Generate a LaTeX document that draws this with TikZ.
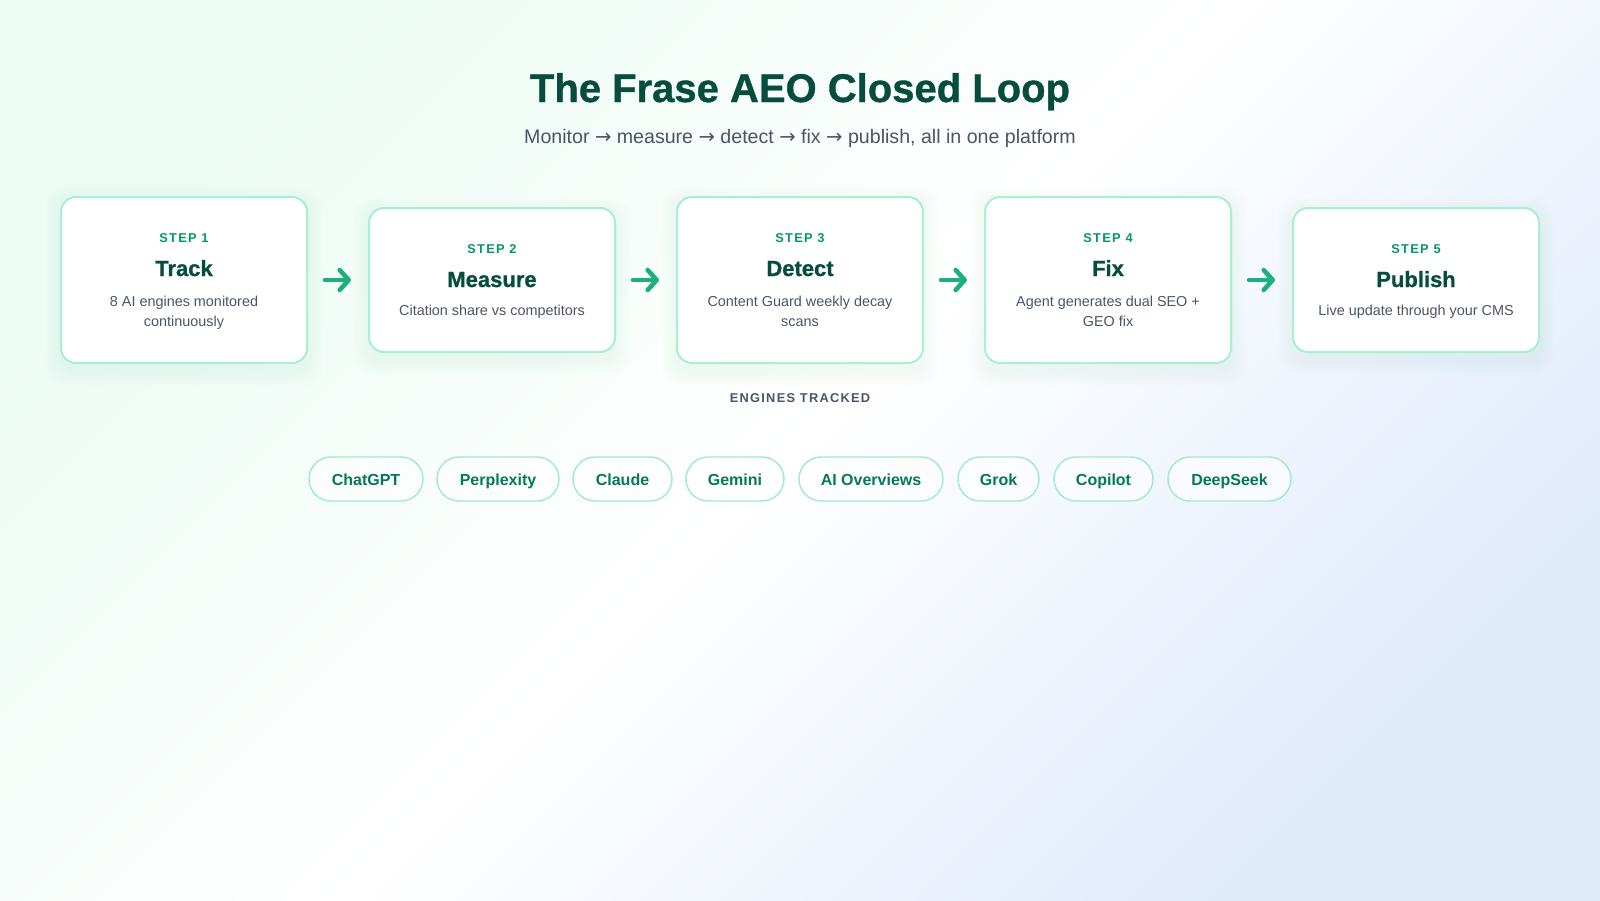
\documentclass[tikz,border=0pt]{standalone}
\usepackage{fontspec}
\setmainfont{Liberation Sans}
\newfontfamily\arrowfont{DejaVu Sans}
\newfontfamily\trackfont[LetterSpace=10]{Liberation Sans}
\newfontfamily\heavyfont[FakeBold=0.9]{Liberation Sans Bold}
\usetikzlibrary{arrows.meta}
\definecolor{bgmint}{HTML}{ECFBF4}
\definecolor{bgblue}{HTML}{DFEAFB}
\definecolor{titlegreen}{HTML}{064E3B}
\definecolor{subgray}{HTML}{4B5563}
\definecolor{stepgreen}{HTML}{059669}
\definecolor{boxborder}{HTML}{A7F0D0}
\definecolor{descgray}{HTML}{4B5563}
\definecolor{arrowgreen}{HTML}{1DB07C}
\definecolor{pilltext}{HTML}{047857}
\definecolor{pillborder}{HTML}{9FEAC8}
\definecolor{shadowgreen}{HTML}{5FD6A0}
\tikzset{
  card/.style={draw=boxborder, line width=1pt, fill=white, rounded corners=7.5pt,
    minimum width=123pt, inner sep=0pt},
  steplbl/.style={font=\trackfont\bfseries\fontsize{6.4}{8}\selectfont, text=stepgreen, inner sep=0pt},
  steptitle/.style={font=\heavyfont\fontsize{11}{13}\selectfont, text=titlegreen, inner sep=0pt},
  stepdesc/.style={font=\fontsize{7.2}{10}\selectfont, text=descgray, align=center, inner sep=0pt},
  flowarrow/.style={draw=arrowgreen, line width=2.3pt, line cap=round,
    -{Straight Barb[length=4.5pt, width=10pt, round]}, shorten <=8.5pt, shorten >=8.5pt},
  pill/.style={draw=pillborder, line width=0.7pt, fill=white, fill opacity=0.6, text opacity=1,
    rounded corners=11pt, minimum height=22pt, inner sep=0pt,
    font=\bfseries\fontsize{8}{10}\selectfont, text=pilltext, text height=8pt, text depth=2pt},
}
\newcommand\mkstep[7]{%
  \foreach \k in {1,...,6}{
    \fill[shadowgreen, opacity=0.012, rounded corners=9pt]
      (#2-123-\k*2.5, #3+5-\k*2.5) rectangle (#2+123+\k*2.5, #3+#4+8+\k*2.5);
  }
  \node[card, minimum height=#4*0.5pt] (#1) at (#2, #3+#4/2) {};
  \node[steplbl, anchor=base] (#1-l) at (#2, #3+45) {STEP #5};
  \node[steptitle, anchor=base] (#1-t) at (#2, #3+79) {#6};
  \node[stepdesc, anchor=base] (#1-d) at (#2, #3+#4-37) {#7};
}
\begin{document}
\begin{tikzpicture}[x=0.5pt, y=-0.5pt]
\useasboundingbox (0,0) rectangle (1600,900);
\shade[top color=bgmint, bottom color=bgblue, middle color=white, shading angle=45]
  (0,0) rectangle (1600,900);

\node[font=\heavyfont\fontsize{20}{24}\selectfont, text=titlegreen, anchor=base, inner sep=0pt]
  (title) at (800,102) {The Frase AEO Closed Loop};
\node[font=\fontsize{9.8}{12}\selectfont, text=subgray, anchor=base, inner sep=0pt]
  (subtitle) at (800,143) {Monitor {\arrowfont →} measure {\arrowfont →} detect {\arrowfont →} fix {\arrowfont →} publish, all in one platform};

\mkstep{s1}{184}{197}{166}{1}{Track}{8 AI engines monitored\\continuously}
\mkstep{s2}{492}{208}{144}{2}{Measure}{Citation share vs competitors}
\mkstep{s3}{800}{197}{166}{3}{Detect}{Content Guard weekly decay\\scans}
\mkstep{s4}{1108}{197}{166}{4}{Fix}{Agent generates dual SEO +\\GEO fix}
\mkstep{s5}{1416}{208}{144}{5}{Publish}{Live update through your CMS}

\draw[flowarrow] (s1.east) -- (s2.west);
\draw[flowarrow] (s2.east) -- (s3.west);
\draw[flowarrow] (s3.east) -- (s4.west);
\draw[flowarrow] (s4.east) -- (s5.west);

\node[font=\trackfont\bfseries\fontsize{6.4}{8}\selectfont, text=subgray, anchor=base, inner sep=0pt]
  (engines) at (800,402) {ENGINES TRACKED};

\node[pill, minimum width=57pt] (p1) at (366,479) {ChatGPT};
\node[pill, minimum width=61pt] (p2) at (498,479) {Perplexity};
\node[pill, minimum width=49.5pt] (p3) at (622.5,479) {Claude};
\node[pill, minimum width=49pt] (p4) at (735,479) {Gemini};
\node[pill, minimum width=72pt] (p5) at (871,479) {AI Overviews};
\node[pill, minimum width=40.5pt] (p6) at (998.5,479) {Grok};
\node[pill, minimum width=49.5pt] (p7) at (1103.5,479) {Copilot};
\node[pill, minimum width=61.5pt] (p8) at (1229.5,479) {DeepSeek};
\end{tikzpicture}
\end{document}
